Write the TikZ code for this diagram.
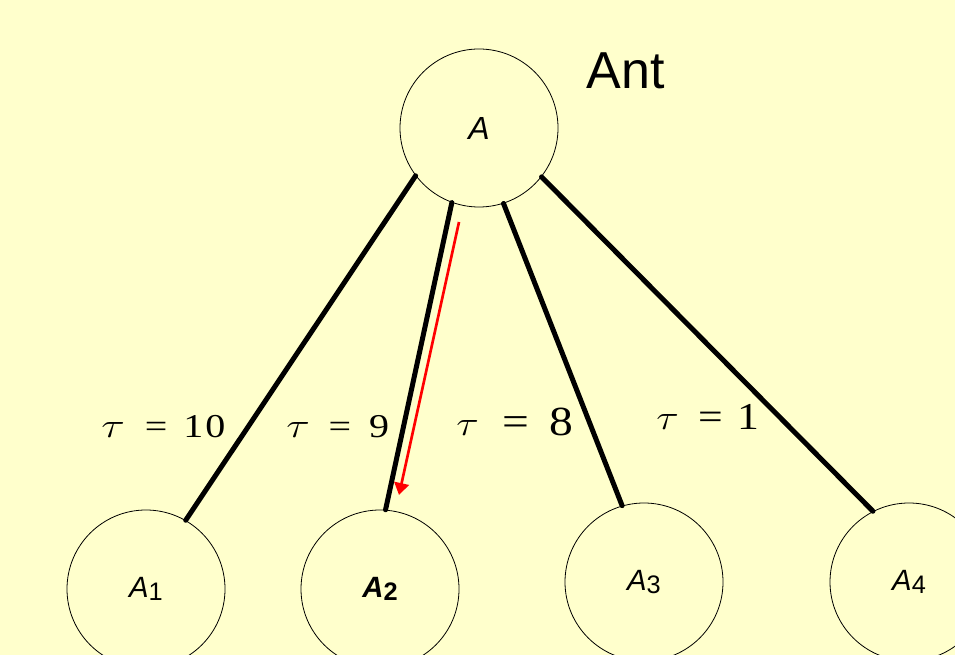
\documentclass[tikz,border=0pt]{standalone}
\usepackage{fontspec}
\setmainfont{Liberation Sans}
\newfontfamily\serifT{Liberation Serif}
\usetikzlibrary{arrows.meta}
\definecolor{bg}{HTML}{FFFFCC}
\newcommand{\subd}[1]{\raisebox{-2.25pt}{\fontsize{19}{22}\selectfont #1}}
\newcommand{\tauglyph}{\scalebox{1.1}[1.05]{$\tau$}}
\begin{document}
\begin{tikzpicture}[x=0.75pt,y=-0.75pt,
  ball/.style={circle,draw=black,line width=0.6pt,fill=bg,minimum size=118.5pt,inner sep=0pt,font=\fontsize{22}{26}\selectfont},
  edge/.style={line width=3.75pt,line cap=round},
  tlabel/.style={anchor=base west,inner sep=0pt},
  antarrow/.style={red,line width=2pt,-{Triangle[length=9pt,width=11pt]}}]
\useasboundingbox (0,0) rectangle (955,655);
\clip (0,0) rectangle (955,655);
\fill[bg] (0,0) rectangle (955,655);
\node[ball,font=\fontsize{24}{28}\selectfont] (A) at (479,128) {\textit{A}};
\node[ball] (A1) at (146,589) {\textit{A}\subd{1}};
\node[ball] (A2) at (380,589) {\textbf{\textit{A}\subd{2}}};
\node[ball] (A3) at (644,582) {\textit{A}\subd{3}};
\node[ball] (A4) at (909,582) {\textit{A}\subd{4}};
\draw[edge] (A.217) -- (A1.60.5);
\draw[edge] (A.250.7) -- (A2.86.3);
\draw[edge] (A.288.9) -- (A3.106.8);
\draw[edge] (A.322.7) -- (A4.117.2);
\coordinate (rs) at (459,222);
\coordinate (re) at (399,495);
\draw[antarrow] (rs) -- (re);
\node[anchor=base,inner sep=0pt,font=\fontsize{39}{44}\selectfont] (ant) at (626,89) {Ant};
\node[tlabel,font=\serifT\fontsize{25}{28}\selectfont] (t10) at (101,437) {\scalebox{1.2}[1]{\tauglyph\hspace{0.5em}=\hspace{0.4em}1\hspace{0.05em}0}};
\node[tlabel,font=\serifT\fontsize{25}{28}\selectfont] (t9) at (286,437) {\scalebox{1.2}[1]{\tauglyph\hspace{0.47em}=\hspace{0.45em}9}};
\node[tlabel,font=\serifT\fontsize{31}{34}\selectfont] (t8) at (456,435) {\scalebox{1.15}[1]{\tauglyph\hspace{0.5em}=\hspace{0.43em}8}};
\node[tlabel,font=\serifT\fontsize{28.5}{32}\selectfont] (t1) at (656,429) {\scalebox{1.15}[1]{\tauglyph\hspace{0.45em}=\hspace{0.32em}1}};
\end{tikzpicture}
\end{document}
